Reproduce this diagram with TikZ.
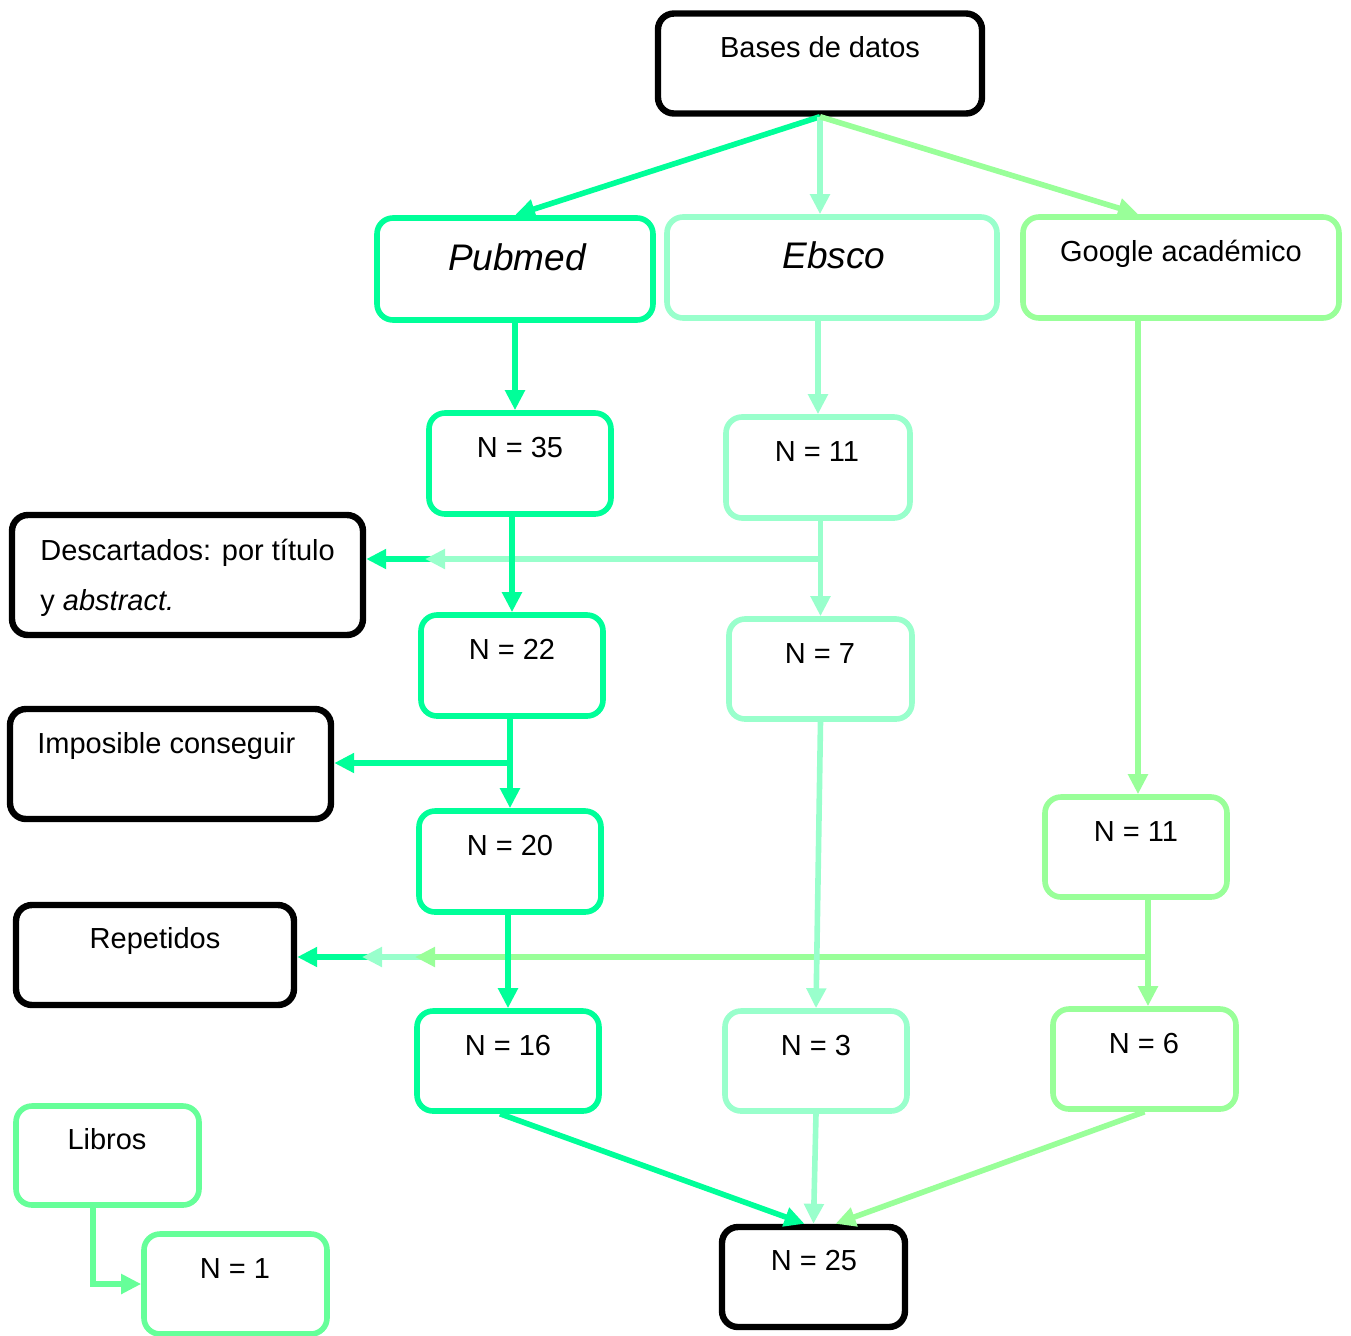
\documentclass[tikz,border=0pt]{standalone}
\usepackage{fontspec}
\setmainfont{Liberation Sans}
\usetikzlibrary{arrows.meta,calc}
\definecolor{cpub}{RGB}{0,255,153}
\definecolor{cebs}{RGB}{153,255,204}
\definecolor{cgoo}{RGB}{153,255,153}
\definecolor{clib}{RGB}{102,255,153}
\tikzset{
  bx/.style={draw=#1, line width=2.8pt, rounded corners=8pt, inner sep=0pt, fill=white},
  bk/.style={bx=black, line width=3.2pt},
  txt/.style={anchor=base, inner sep=0pt, font=\fontsize{14.5}{17}\selectfont},
  txtl/.style={anchor=base west, inner sep=0pt, font=\fontsize{14.5}{17}\selectfont},
  big/.style={anchor=base, inner sep=0pt, font=\fontsize{18.5}{22}\selectfont\itshape},
  con/.style={draw=#1, line width=2.8pt, -{Triangle[length=10pt,width=9.5pt]}},
}
\begin{document}
\begin{tikzpicture}[x=0.5pt,y=-0.5pt]
\useasboundingbox (0,0) rectangle (1351,1335);
% boxes
\node[bk, minimum width=162pt, minimum height=50pt] (bases) at (820,63.5) {};
\node[bx=cpub, minimum width=138pt, minimum height=51pt] (pub) at (515,269) {};
\node[bx=cebs, minimum width=165pt, minimum height=50.5pt] (ebs) at (832,267.5) {};
\node[bx=cgoo, minimum width=158pt, minimum height=50.5pt] (goo) at (1181,267.5) {};
\node[bx=cpub, minimum width=91pt, minimum height=50.5pt] (n35) at (520,463.5) {};
\node[bx=cebs, minimum width=92pt, minimum height=50.5pt] (n11) at (818,467.5) {};
\node[bk, minimum width=175.5pt, minimum height=60pt] (desc) at (187.5,575) {};
\node[bx=cpub, minimum width=91pt, minimum height=50.5pt] (n22) at (512,665.5) {};
\node[bx=cebs, minimum width=91.5pt, minimum height=50pt] (n7) at (820.5,669) {};
\node[bk, minimum width=160.5pt, minimum height=55pt] (imp) at (170.5,764) {};
\node[bx=cpub, minimum width=91pt, minimum height=50.5pt] (n20) at (510,861.5) {};
\node[bx=cgoo, minimum width=91pt, minimum height=50pt] (n11g) at (1136,847) {};
\node[bk, minimum width=139pt, minimum height=50pt] (rep) at (155,955) {};
\node[bx=cpub, minimum width=91pt, minimum height=50pt] (n16) at (508,1061) {};
\node[bx=cebs, minimum width=91pt, minimum height=50pt] (n3) at (816,1061) {};
\node[bx=cgoo, minimum width=91.5pt, minimum height=50pt] (n6) at (1144.5,1059) {};
\node[bx=clib, minimum width=91.5pt, minimum height=49.5pt] (lib) at (107.5,1155.5) {};
\node[bx=clib, minimum width=91.5pt, minimum height=50pt] (n1) at (235.5,1284) {};
\node[bk, minimum width=91.5pt, minimum height=50pt] (n25) at (813.5,1277) {};
% texts
\node[txt] (tbases) at (820,57) {Bases de datos};
\node[big] (tpub) at (517,270) {Pubmed};
\node[big] (tebs) at (834,268) {Ebsco};
\node[txt] (tgoo) at (1181,261) {Google académico};
\node[txt] (t35) at (520,457) {N = 35};
\node[txt] (t11) at (817,461) {N = 11};
\node[txtl] (tdesc1) at (40,560) {Descartados: por título};
\node[txtl] (tdesc2) at (40,610) {y \textit{abstract.}};
\node[txt] (t22) at (512,659) {N = 22};
\node[txt] (t7) at (820,663) {N = 7};
\node[txtl] (timp) at (37,753) {Imposible conseguir};
\node[txt] (t20) at (510,855) {N = 20};
\node[txt] (t11g) at (1136,841) {N = 11};
\node[txt] (trep) at (155,948) {Repetidos};
\node[txt] (t16) at (508,1055) {N = 16};
\node[txt] (t3) at (816,1055) {N = 3};
\node[txt] (t6) at (1144,1053) {N = 6};
\node[txt] (tlib) at (107,1149) {Libros};
\node[txt] (t1) at (235,1278) {N = 1};
\node[txt] (t25) at (814,1270) {N = 25};
% junction coordinates
\coordinate (j1) at (512,559);
\coordinate (j2) at (820,559);
\coordinate (e1) at (425,559);
\coordinate (j3) at (510,763);
\coordinate (j4) at (508,957);
\coordinate (j5) at (817,957);
\coordinate (e2) at (362,957);
\coordinate (j6) at (1148,957);
\coordinate (e3) at (415,957);
\coordinate (gtop) at (1138,214);
\coordinate (gbot) at (1138,320);
\coordinate (lb) at (93,1204);
% horizontals
\draw[con=cpub] (j1) -- (j1 -| desc.east);
\draw[con=cebs] (j2) -- (e1);
\draw[con=cpub] (j3) -- (j3 -| imp.east);
\draw[con=cpub] (j4) -- (j4 -| rep.east);
\draw[con=cebs] (j5) -- (e2);
\draw[con=cgoo] (j6) -- (e3);
% top fan
\draw[con=cpub] (bases.south) -- (pub.north);
\draw[con=cebs] (bases.south) -- (bases.south |- ebs.north);
\draw[con=cgoo] (bases.south) -- (gtop);
% verticals
\draw[con=cpub] (pub.south) -- (pub.south |- n35.north);
\draw[con=cebs] (n11.north |- ebs.south) -- (n11.north);
\draw[con=cgoo] (gbot) -- (gbot |- n11g.north);
\draw[con=cpub] (n22.north |- n35.south) -- (n22.north);
\draw[con=cebs] (n7.north |- n11.south) -- (n7.north);
\draw[con=cpub] (n20.north |- n22.south) -- (n20.north);
\draw[con=cpub] (n16.north |- n20.south) -- (n16.north);
\draw[con=cebs] (n7.south) -- (n3.north);
\draw[con=cgoo] (j6 |- n11g.south) -- (j6 |- n6.north);
% bottom
\draw[con=cpub] ($(n16.south)+(-8,0)$) -- ($(n25.north)+(-9,0)$);
\draw[con=cebs] (n3.south) -- (n25.north);
\draw[con=cgoo] (n6.south) -- ($(n25.north)+(22,0)$);
\draw[con=clib] (lb) |- (n1.west);
\end{tikzpicture}
\end{document}
